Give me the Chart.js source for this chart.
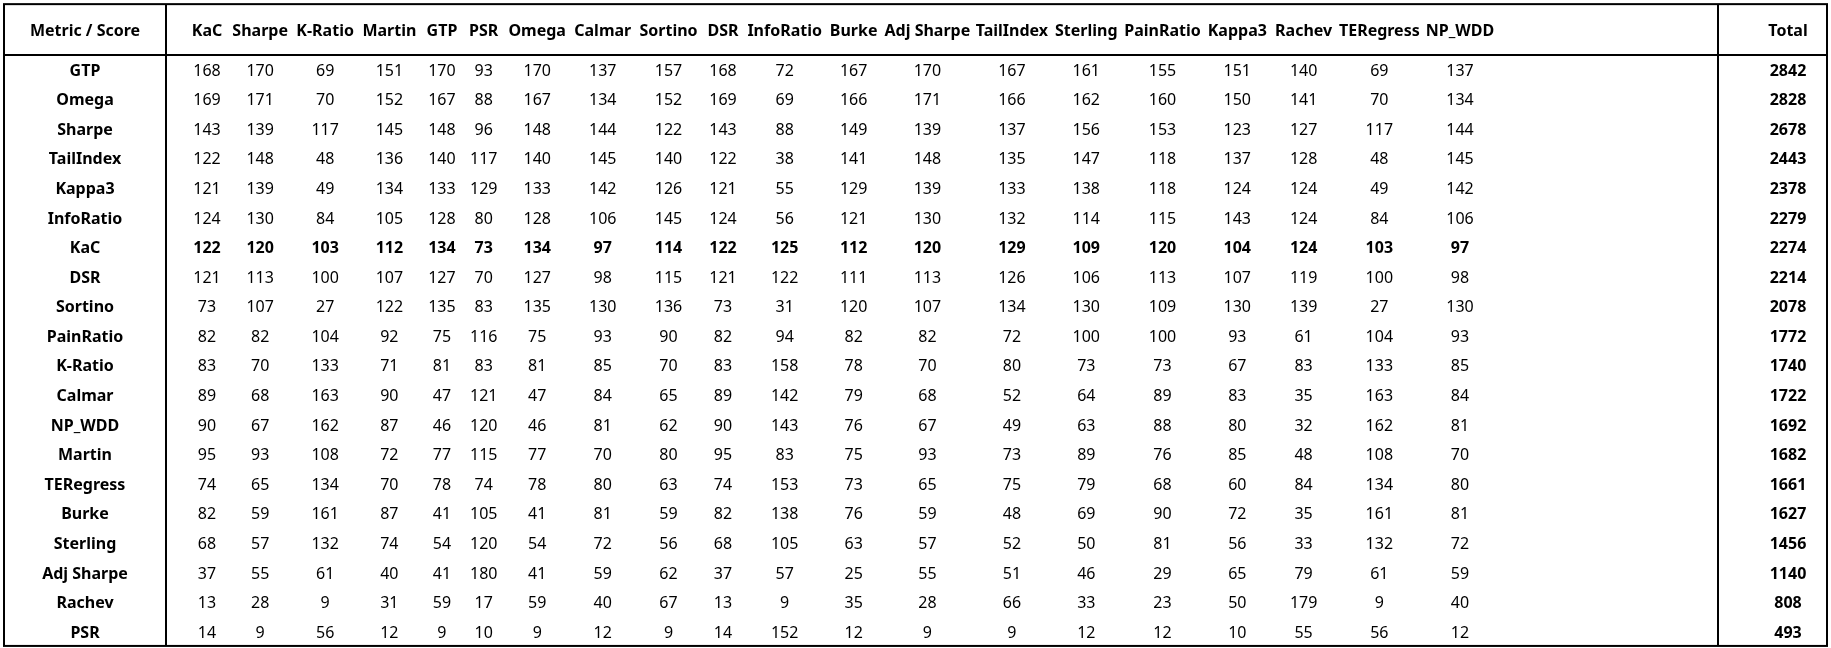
<!DOCTYPE html>
<html>
<head>
<meta charset="utf-8">
<script src="https://cdn.jsdelivr.net/npm/chart.js@4"></script>
<style>
  html, body { margin: 0; padding: 0; background: #fff; }
  #wrap { width: 1831px; height: 648px; }
</style>
</head>
<body>
<div id="wrap"><canvas id="table"></canvas></div>
<script>
// Column headers, row labels and score values of the ranking table
const corner = "Metric / Score";
const columns = ["KaC", "Sharpe", "K-Ratio", "Martin", "GTP", "PSR", "Omega", "Calmar", "Sortino", "DSR",
  "InfoRatio", "Burke", "Adj Sharpe", "TailIndex", "Sterling", "PainRatio", "Kappa3", "Rachev", "TERegress", "NP_WDD"];
const rows = ["GTP", "Omega", "Sharpe", "TailIndex", "Kappa3", "InfoRatio", "KaC", "DSR", "Sortino", "PainRatio",
  "K-Ratio", "Calmar", "NP_WDD", "Martin", "TERegress", "Burke", "Sterling", "Adj Sharpe", "Rachev", "PSR"];
const scores = [
  [168, 170, 69, 151, 170, 93, 170, 137, 157, 168, 72, 167, 170, 167, 161, 155, 151, 140, 69, 137],
  [169, 171, 70, 152, 167, 88, 167, 134, 152, 169, 69, 166, 171, 166, 162, 160, 150, 141, 70, 134],
  [143, 139, 117, 145, 148, 96, 148, 144, 122, 143, 88, 149, 139, 137, 156, 153, 123, 127, 117, 144],
  [122, 148, 48, 136, 140, 117, 140, 145, 140, 122, 38, 141, 148, 135, 147, 118, 137, 128, 48, 145],
  [121, 139, 49, 134, 133, 129, 133, 142, 126, 121, 55, 129, 139, 133, 138, 118, 124, 124, 49, 142],
  [124, 130, 84, 105, 128, 80, 128, 106, 145, 124, 56, 121, 130, 132, 114, 115, 143, 124, 84, 106],
  [122, 120, 103, 112, 134, 73, 134, 97, 114, 122, 125, 112, 120, 129, 109, 120, 104, 124, 103, 97],
  [121, 113, 100, 107, 127, 70, 127, 98, 115, 121, 122, 111, 113, 126, 106, 113, 107, 119, 100, 98],
  [73, 107, 27, 122, 135, 83, 135, 130, 136, 73, 31, 120, 107, 134, 130, 109, 130, 139, 27, 130],
  [82, 82, 104, 92, 75, 116, 75, 93, 90, 82, 94, 82, 82, 72, 100, 100, 93, 61, 104, 93],
  [83, 70, 133, 71, 81, 83, 81, 85, 70, 83, 158, 78, 70, 80, 73, 73, 67, 83, 133, 85],
  [89, 68, 163, 90, 47, 121, 47, 84, 65, 89, 142, 79, 68, 52, 64, 89, 83, 35, 163, 84],
  [90, 67, 162, 87, 46, 120, 46, 81, 62, 90, 143, 76, 67, 49, 63, 88, 80, 32, 162, 81],
  [95, 93, 108, 72, 77, 115, 77, 70, 80, 95, 83, 75, 93, 73, 89, 76, 85, 48, 108, 70],
  [74, 65, 134, 70, 78, 74, 78, 80, 63, 74, 153, 73, 65, 75, 79, 68, 60, 84, 134, 80],
  [82, 59, 161, 87, 41, 105, 41, 81, 59, 82, 138, 76, 59, 48, 69, 90, 72, 35, 161, 81],
  [68, 57, 132, 74, 54, 120, 54, 72, 56, 68, 105, 63, 57, 52, 50, 81, 56, 33, 132, 72],
  [37, 55, 61, 40, 41, 180, 41, 59, 62, 37, 57, 25, 55, 51, 46, 29, 65, 79, 61, 59],
  [13, 28, 9, 31, 59, 17, 59, 40, 67, 13, 9, 35, 28, 66, 33, 23, 50, 179, 9, 40],
  [14, 9, 56, 12, 9, 10, 9, 12, 9, 14, 152, 12, 9, 9, 12, 12, 10, 55, 56, 12]
];
const totalLabel = "Total";
const totals = [2842, 2828, 2678, 2443, 2378, 2279, 2274, 2214, 2078, 1772, 1740, 1722, 1692, 1682, 1661, 1627, 1456, 1140, 808, 493];
const highlightRow = "KaC";

const FONT = '"Noto Sans", sans-serif';
const fontOf = (bold) => (bold ? "bold " : "") + "16px " + FONT;

// column centres on the x scale, spaced by header text width
function columnCenters(ctx) {
  ctx.font = fontOf(true);
  const w = columns.map(c => ctx.measureText(c).width + 18);
  const raw = []; let acc = 0;
  w.forEach((wi, i) => { raw.push(acc + wi / 2); acc += wi; });
  const a = 207, b = 1460, k = (b - a) / (raw[raw.length - 1] - raw[0]);
  return raw.map(r => a + (r - raw[0]) * k);
}

const tablePlugin = {
  id: "tableCells",
  afterDraw(chart) {
    const { ctx, scales: { x, y } } = chart;
    const centers = columnCenters(ctx);
    const px = v => x.getPixelForValue(v), py = v => y.getPixelForValue(v);
    ctx.save();
    ctx.fillStyle = "#000";
    ctx.textAlign = "center";
    ctx.textBaseline = "middle";
    // header
    ctx.font = fontOf(true);
    ctx.fillText(corner, px(85), py(-1.35));
    columns.forEach((c, j) => ctx.fillText(c, px(centers[j]), py(-1.35)));
    ctx.fillText(totalLabel, px(1788), py(-1.35));
    // body
    rows.forEach((r, i) => {
      const bold = r === highlightRow;
      ctx.font = fontOf(true);
      ctx.fillText(r, px(85), py(i));
      ctx.fillText(String(totals[i]), px(1788), py(i));
      ctx.font = fontOf(bold);
      scores[i].forEach((v, j) => ctx.fillText(String(v), px(centers[j]), py(i)));
    });
    // grid lines
    ctx.strokeStyle = "#000";
    ctx.lineWidth = 2;
    ctx.strokeRect(px(4), py(-2.26), px(1827) - px(4), py(19.43) - py(-2.26));
    ctx.beginPath();
    ctx.moveTo(px(4), py(-0.54)); ctx.lineTo(px(1827), py(-0.54));
    ctx.moveTo(px(166), py(-2.26)); ctx.lineTo(px(166), py(19.43));
    ctx.moveTo(px(1718), py(-2.26)); ctx.lineTo(px(1718), py(19.43));
    ctx.stroke();
    ctx.restore();
  }
};

new Chart(document.getElementById("table"), {
  type: "scatter",
  data: { datasets: [{ data: [] }] },
  options: {
    responsive: true,
    maintainAspectRatio: false,
    animation: false,
    layout: { padding: 0 },
    plugins: { legend: { display: false }, tooltip: { enabled: false } },
    scales: {
      x: { type: "linear", min: 0, max: 1831, display: false },
      y: { type: "linear", min: -2.4, max: 19.5, reverse: true, display: false }
    }
  },
  plugins: [tablePlugin]
});
</script>
</body>
</html>
